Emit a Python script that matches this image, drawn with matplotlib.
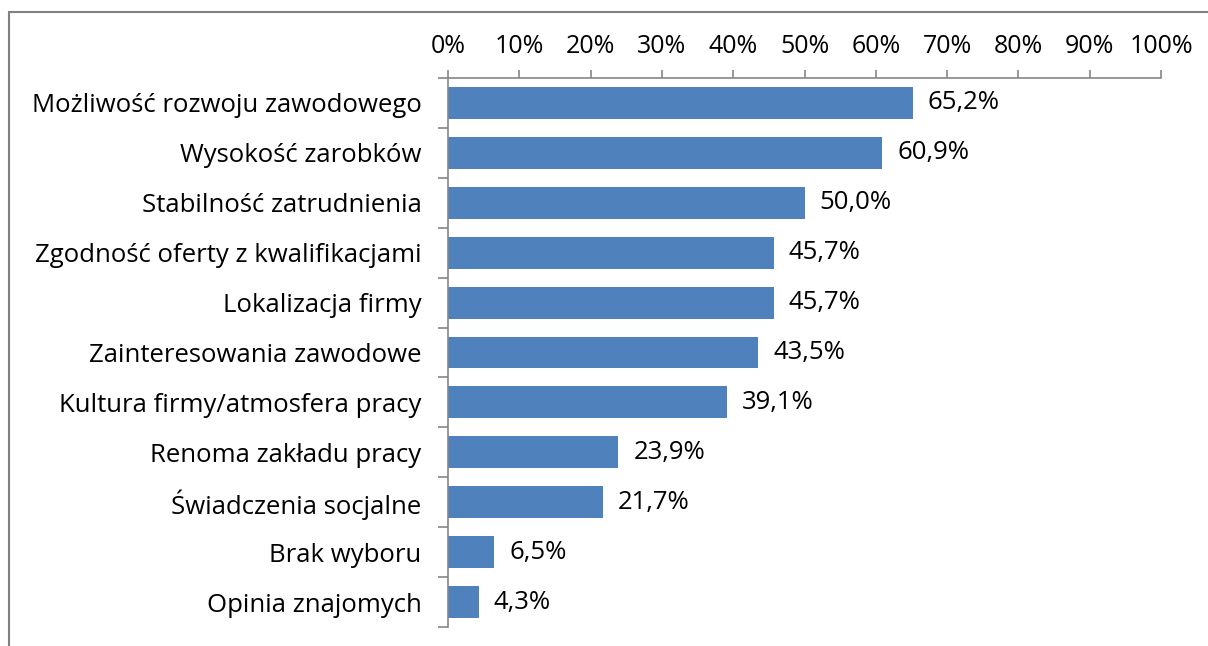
import matplotlib
matplotlib.use("Agg")
import matplotlib.pyplot as plt
from matplotlib.patches import Rectangle

categories = ["Możliwość rozwoju zawodowego", "Wysokość zarobków", "Stabilność zatrudnienia",
              "Zgodność oferty z kwalifikacjami", "Lokalizacja firmy", "Zainteresowania zawodowe",
              "Kultura firmy/atmosfera pracy", "Renoma zakładu pracy", "Świadczenia socjalne",
              "Brak wyboru", "Opinia znajomych"]
values = [65.2, 60.9, 50.0, 45.7, 45.7, 43.5, 39.1, 23.9, 21.7, 6.5, 4.3]
xticks = list(range(0, 101, 10))
xticklabels = [f"{t}%" for t in xticks]

plt.rcParams['font.family'] = ['Open Sans', 'DejaVu Sans']
FS = 18.5
W, H = 1208, 646
fig = plt.figure(figsize=(W/100, H/100), dpi=100)
ax = fig.add_axes([448/W, 1-627/H, (1161-448)/W, (627-78)/H])

n = len(categories)
ypos = list(range(n))
ax.barh(ypos, values, height=0.64, color="#4F81BD", zorder=2)
ax.set_ylim(n-0.5, -0.5)
ax.set_xlim(0, 100)
ax.xaxis.tick_top()
ax.set_xticks(xticks)
ax.set_xticklabels(xticklabels, fontsize=FS-0.5)
ax.set_yticks(ypos)
ax.set_yticklabels(categories, fontsize=FS)
ax.set_yticks([i - 0.5 for i in range(n+1)], minor=True)
ax.tick_params(axis='y', which='major', length=0, pad=19)
ax.tick_params(axis='y', which='minor', length=7, color="#868686", width=1.2)
ax.tick_params(axis='x', length=6, color="#868686", width=1.2, pad=8)
for s in ['right', 'bottom']:
    ax.spines[s].set_visible(False)
for s in ['left', 'top']:
    ax.spines[s].set_color("#868686")
    ax.spines[s].set_linewidth(1.2)

for y, v in zip(ypos, values):
    ax.text(v + 2.1, y, f"{v:.1f}%".replace(".", ","), va='center', ha='left', fontsize=FS)

fig.patches.append(Rectangle((9/W, 1-700/H), 1300/W, (700-12)/H, transform=fig.transFigure,
                             fill=False, edgecolor="#808080", linewidth=1.5))
fig.savefig("out.png", dpi=100)
